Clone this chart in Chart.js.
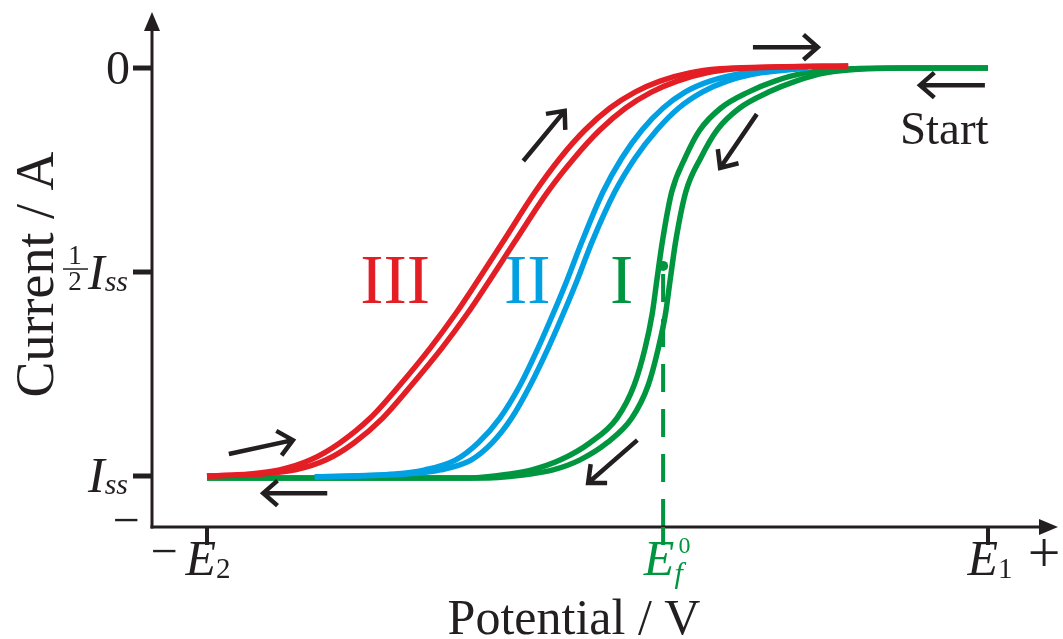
<!DOCTYPE html>
<html>
<head>
<meta charset="utf-8">
<script src="https://cdn.jsdelivr.net/npm/chart.js@4.4.1/dist/chart.umd.min.js"></script>
<style>
  html, body { margin: 0; padding: 0; background: #ffffff; }
  #wrap { width: 1063px; height: 639px; }
</style>
</head>
<body>
<div id="wrap"><canvas id="c" width="1063" height="639"></canvas></div>
<script>
// Potential: % of the sweep window (E2 = 0, E1 = 100). Current: fraction of Iss (cathodic, negative).
const levelsIII = [-1.0, -0.995, -0.985, -0.961, -0.919, -0.858, -0.777, -0.686, -0.603, -0.520, -0.426, -0.304, -0.221, -0.152, -0.098, -0.059, -0.032, -0.012, -0.002, 0.002, 0.005];
const curveIIIa = [0, 5.5, 9.3, 13.2, 17.0, 20.9, 24.7, 28.6, 31.8, 34.7, 37.9, 42.0, 45.2, 48.4, 51.6, 54.8, 58.0, 61.8, 65.7, 70.8, 82.1];
const curveIIIb = [0, 7.0, 11.3, 15.2, 18.8, 22.5, 26.2, 30.1, 33.3, 36.2, 39.4, 43.6, 47.0, 50.3, 53.6, 56.9, 60.2, 64.0, 67.7, 72.3, 82.1];

const levelsII = [-1.002, -0.995, -0.985, -0.961, -0.919, -0.858, -0.777, -0.686, -0.603, -0.520, -0.426, -0.304, -0.221, -0.152, -0.098, -0.059, -0.032, -0.012, -0.002, 0];
const curveIIa = [13.8, 24.1, 27.9, 31.8, 34.7, 37.5, 40.1, 42.4, 44.3, 46.1, 48.0, 50.7, 53.1, 55.7, 58.4, 61.2, 64.4, 68.9, 74.6, 76.2];
const curveIIb = [13.8, 25.6, 29.9, 33.8, 36.5, 39.0, 41.4, 43.7, 45.6, 47.4, 49.3, 52.2, 54.8, 57.6, 60.4, 63.4, 66.6, 70.9, 76.0, 77.0];

const levelsI = [-1.005, -1.005, -0.995, -0.985, -0.961, -0.919, -0.858, -0.777, -0.686, -0.603, -0.520, -0.426, -0.304, -0.221, -0.152, -0.098, -0.059, -0.032, -0.012, -0.002, 0, 0];
const curveIa = [0, 33.7, 38.8, 41.6, 45.2, 49.0, 52.5, 54.7, 56.1, 57.0, 57.6, 58.3, 59.5, 61.2, 63.1, 65.8, 69.3, 72.7, 76.6, 82.3, 88.7, 100];
const curveIb = [0, 35.5, 41.4, 44.3, 47.7, 51.2, 54.4, 56.5, 57.8, 58.7, 59.3, 60.0, 61.3, 63.2, 65.3, 68.2, 71.9, 75.4, 79.2, 84.6, 90.5, 100];

const xTickValues = [0, 58.4, 100];          // E2, Ef0, E1
const yTickValues = [0, -0.5, -1];           // 0, 1/2 Iss, Iss
const formalPotential = 58.4;
const halfWaveCurrent = -0.485;

// sweep-direction arrows: [x1, y1, x2, y2] in potential / current units
const sweepArrows = [
  [69.9, 0.051, 78.2, 0.051],
  [99.6, -0.042, 91.3, -0.042],
  [40.5, -0.228, 45.8, -0.105],
  [70.4, -0.113, 65.7, -0.245],
  [2.8, -0.946, 11.0, -0.912],
  [15.4, -1.042, 7.2, -1.042],
  [55.1, -0.912, 48.8, -1.017]
];

const INK = '#231f20', RED = '#e31e25', BLUE = '#00a0e3', GREEN = '#00963f';
const SERIF = '"Liberation Serif", "Times New Roman", serif';

function pts(xs, ys) { return xs.map((v, i) => ({ x: v, y: ys[i] })); }
function line(data, color) {
  return { data, borderColor: color, borderWidth: 5.5, pointRadius: 0, fill: false,
           cubicInterpolationMode: 'monotone', borderCapStyle: 'butt', borderJoinStyle: 'round' };
}

// draw a row of text runs; a run may carry a stacked superscript
function runs(ctx, parts, x, base, align) {
  let w = 0;
  parts.forEach(p => {
    ctx.font = p.f; p.w = ctx.measureText(p.t).width;
    if (p.sup) { ctx.font = p.sup.f; p.w = Math.max(p.w, ctx.measureText(p.sup.t).width + (p.sup.dx || 0)); }
    w += p.w + (p.gap || 0);
  });
  let cx = align === 'center' ? x - w / 2 : align === 'right' ? x - w : x;
  ctx.textAlign = 'left';
  parts.forEach(p => {
    ctx.font = p.f; ctx.fillText(p.t, cx, base + (p.dy || 0));
    if (p.sup) { ctx.font = p.sup.f; ctx.fillText(p.sup.t, cx + (p.sup.dx || 0), base + p.sup.dy); }
    cx += p.w + (p.gap || 0);
  });
}

function arrow(ctx, x1, y1, x2, y2) {
  const a = Math.atan2(y2 - y1, x2 - x1), L = 19, s = 0.72;
  ctx.beginPath();
  ctx.moveTo(x1, y1); ctx.lineTo(x2, y2);
  ctx.moveTo(x2 - L * Math.cos(a - s), y2 - L * Math.sin(a - s));
  ctx.lineTo(x2, y2);
  ctx.lineTo(x2 - L * Math.cos(a + s), y2 - L * Math.sin(a + s));
  ctx.stroke();
}

const decor = {
  id: 'decor',
  beforeDatasetsDraw(chart) {
    const { ctx, chartArea: a, scales: { x, y } } = chart;
    const xe = x.getPixelForValue(formalPotential);
    ctx.save();
    ctx.strokeStyle = GREEN; ctx.lineWidth = 4; ctx.setLineDash([28, 17]);
    ctx.beginPath(); ctx.moveTo(xe, a.bottom); ctx.lineTo(xe, y.getPixelForValue(halfWaveCurrent)); ctx.stroke();
    ctx.restore();
  },
  afterDatasetsDraw(chart) {
    const { ctx, chartArea: a, scales: { x, y } } = chart;
    ctx.save();
    const L = a.left, B = a.bottom;

    // half-wave point
    ctx.fillStyle = GREEN;
    ctx.beginPath();
    ctx.arc(x.getPixelForValue(formalPotential), y.getPixelForValue(halfWaveCurrent), 5, 0, Math.PI * 2);
    ctx.fill();

    // axes with arrow heads
    ctx.strokeStyle = INK; ctx.fillStyle = INK; ctx.lineWidth = 3;
    ctx.beginPath(); ctx.moveTo(L, B + 1.5); ctx.lineTo(L, a.top + 14); ctx.stroke();
    ctx.beginPath(); ctx.moveTo(L - 1.5, B); ctx.lineTo(a.right - 14, B); ctx.stroke();
    ctx.beginPath(); ctx.moveTo(L, a.top); ctx.lineTo(L - 8, a.top + 19); ctx.lineTo(L + 8, a.top + 19); ctx.closePath(); ctx.fill();
    ctx.beginPath(); ctx.moveTo(a.right, B); ctx.lineTo(a.right - 19, B - 8); ctx.lineTo(a.right - 19, B + 8); ctx.closePath(); ctx.fill();

    // y ticks
    ctx.lineWidth = 5;
    yTickValues.forEach(v => {
      const py = y.getPixelForValue(v);
      ctx.beginPath(); ctx.moveTo(L - 19, py); ctx.lineTo(L, py); ctx.stroke();
    });
    // x ticks
    ctx.lineWidth = 4;
    xTickValues.forEach((v, i) => {
      const px = x.getPixelForValue(v);
      ctx.strokeStyle = i === 1 ? GREEN : INK;
      ctx.beginPath(); ctx.moveTo(px, B); ctx.lineTo(px, B + 18); ctx.stroke();
    });

    const big = '48px ' + SERIF, bigI = 'italic 50px ' + SERIF;
    const small = '29px ' + SERIF, smallI = 'italic 30px ' + SERIF;

    // y tick labels
    ctx.fillStyle = INK;
    const y0 = y.getPixelForValue(yTickValues[0]);
    const yh = y.getPixelForValue(yTickValues[1]);
    const y1 = y.getPixelForValue(yTickValues[2]);
    ctx.font = big; ctx.textAlign = 'right'; ctx.textBaseline = 'alphabetic';
    ctx.fillText('0', L - 22, y0 + 16);
    runs(ctx, [{ t: 'I', f: bigI, gap: 0 }, { t: 'ss', f: smallI, dy: 2 }], L - 24, yh + 17, 'right');
    runs(ctx, [{ t: 'I', f: bigI, gap: 0 }, { t: 'ss', f: smallI, dy: 2 }], L - 24, y1 + 16, 'right');
    // the 1/2 fraction
    ctx.font = '27px ' + SERIF; ctx.textAlign = 'center';
    ctx.fillText('1', 75, yh - 8);
    ctx.fillText('2', 75, yh + 18);
    ctx.lineWidth = 1.5; ctx.strokeStyle = INK;
    ctx.beginPath(); ctx.moveTo(63, yh - 3); ctx.lineTo(88, yh - 3); ctx.stroke();
    ctx.font = big; ctx.textAlign = 'center';
    ctx.fillText('\u2212', L - 26, B + 9);

    // x tick labels
    const xb = B + 48;
    runs(ctx, [{ t: 'E', f: bigI, gap: 0 }, { t: '2', f: small, dy: 3 }], x.getPixelForValue(xTickValues[0]) + 1, xb, 'center');
    runs(ctx, [{ t: 'E', f: bigI, gap: 0 }, { t: '1', f: small, dy: 3 }], x.getPixelForValue(xTickValues[2]) + 2, xb, 'center');
    ctx.fillStyle = GREEN;
    runs(ctx, [{ t: 'E', f: bigI, gap: 0 }, { t: 'f', f: smallI, dy: 8, sup: { t: '0', f: '24px ' + SERIF, dy: -22, dx: 4 } }],
         x.getPixelForValue(xTickValues[1]) + 4, xb, 'center');
    ctx.fillStyle = INK; ctx.font = big; ctx.textAlign = 'center';
    ctx.fillText('\u2212', x.getPixelForValue(xTickValues[0]) - 43, xb - 8);
    ctx.font = '58px ' + SERIF;
    ctx.fillText('+', a.right - 14, xb - 3);

    // axis titles
    ctx.font = '50px ' + SERIF; ctx.textAlign = 'center';
    ctx.fillText('Potential / V', (L + a.right) / 2 - 31, 634);
    ctx.save();
    ctx.font = '54px ' + SERIF;
    ctx.translate(53, (a.top + B) / 2 + 5);
    ctx.rotate(-Math.PI / 2);
    ctx.fillText('Current / A', 0, 0);
    ctx.restore();

    // curve labels
    ctx.font = '70px ' + SERIF; ctx.textAlign = 'center';
    const ly = y.getPixelForValue(-0.52) + 23;
    ctx.fillStyle = RED;   ctx.fillText('III', x.getPixelForValue(24.1), ly);
    ctx.fillStyle = BLUE;  ctx.fillText('II', x.getPixelForValue(41.0), ly);
    ctx.fillStyle = GREEN; ctx.fillText('I', x.getPixelForValue(53.1), ly);
    ctx.fillStyle = INK; ctx.font = '47px ' + SERIF;
    ctx.fillText('Start', x.getPixelForValue(94.4), y.getPixelForValue(-0.147) + 16);

    // sweep arrows
    ctx.strokeStyle = INK; ctx.lineWidth = 4.5; ctx.lineCap = 'butt'; ctx.lineJoin = 'miter';
    sweepArrows.forEach(([a1, b1, a2, b2]) =>
      arrow(ctx, x.getPixelForValue(a1), y.getPixelForValue(b1), x.getPixelForValue(a2), y.getPixelForValue(b2)));
    ctx.restore();
  }
};

new Chart(document.getElementById('c'), {
  type: 'line',
  data: {
    datasets: [
      line(pts(curveIIIa, levelsIII), RED),
      line(pts(curveIIIb, levelsIII), RED),
      line(pts(curveIIa, levelsII), BLUE),
      line(pts(curveIIb, levelsII), BLUE),
      line(pts(curveIa, levelsI), GREEN),
      line(pts(curveIb, levelsI), GREEN)
    ]
  },
  options: {
    responsive: false,
    animation: false,
    devicePixelRatio: 1,
    layout: { padding: { left: 152, right: 5, top: 12, bottom: 112 } },
    scales: {
      x: { type: 'linear', display: false, min: -7.04, max: 108.96 },
      y: { type: 'linear', display: false, min: -1.125, max: 0.1373 }
    },
    plugins: { legend: { display: false }, tooltip: { enabled: false } }
  },
  plugins: [decor]
});
</script>
</body>
</html>
